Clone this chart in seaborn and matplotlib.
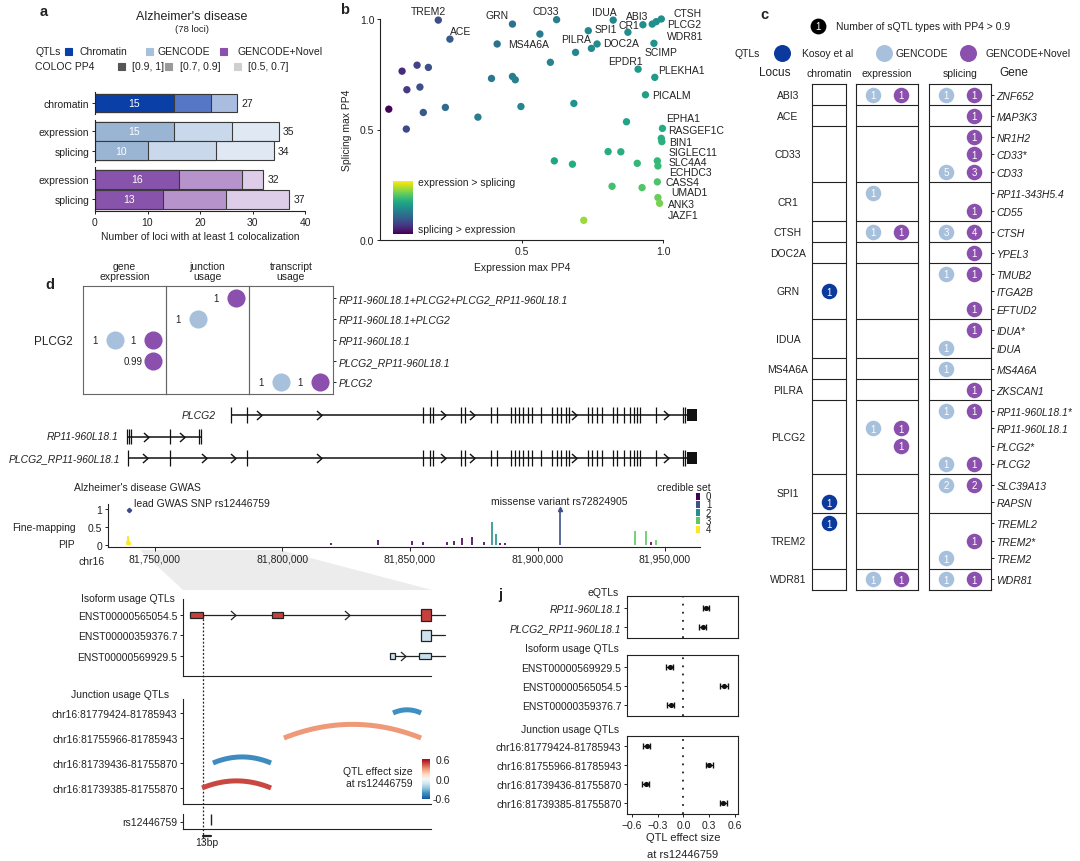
import numpy as np
import matplotlib
matplotlib.use("Agg")
import matplotlib.pyplot as plt
import seaborn as sns
import matplotlib.transforms as mtransforms
from matplotlib.patches import Rectangle, Polygon
from matplotlib.path import Path

# ============================ DATA ============================
# --- panel a ---
a_rows = ["chromatin", "expression", "splicing", "expression", "splicing"]
a_source = ["Chromatin", "GENCODE", "GENCODE", "GENCODE+Novel", "GENCODE+Novel"]
a_pp4_high = [15, 15, 10, 16, 13]   # [0.9, 1]
a_pp4_mid = [7, 11, 13, 12, 12]     # [0.7, 0.9]
a_pp4_low = [5, 9, 11, 4, 12]       # [0.5, 0.7]
a_ticks = [0, 10, 20, 30, 40]

# --- panel b ---
b_expr = [0.206, 0.247, 0.468, 0.624, 0.414, 0.565, 0.824, 0.736, 0.876, 0.929, 0.994, 0.976, 0.962,
          0.691, 0.747, 0.767, 0.968, 0.912, 0.971, 0.938, 0.602, 0.394, 0.468, 0.478, 0.685, 0.498,
          0.346, 0.231, 0.031, 0.078, 0.131, 0.171, 0.095, 0.141, 0.153, 0.093, 0.871, 0.998, 0.994,
          0.996, 0.806, 0.851, 0.616, 0.680, 0.909, 0.980, 0.982, 0.980, 0.820, 0.926, 0.982, 0.988, 0.720]
b_splice = [0.995, 0.909, 0.977, 0.997, 0.887, 0.932, 0.995, 0.947, 0.940, 0.974, 1.000, 0.988, 0.977,
            0.849, 0.867, 0.887, 0.890, 0.773, 0.736, 0.657, 0.804, 0.731, 0.740, 0.725, 0.618, 0.604,
            0.556, 0.600, 0.592, 0.764, 0.791, 0.781, 0.680, 0.692, 0.577, 0.502, 0.535, 0.505, 0.460,
            0.445, 0.400, 0.399, 0.358, 0.343, 0.347, 0.358, 0.335, 0.263, 0.243, 0.237, 0.192, 0.166, 0.089]
b_labels = ["TREM2", "ACE", "GRN", "CD33", "MS4A6A", "PILRA", "SPI1", "IDUA", "DOC2A", "CR1", "ABI3",
            "CTSH", "PLCG2", "WDR81", "SCIMP", "EPDR1", "PLEKHA1", "PICALM", "EPHA1", "RASGEF1C",
            "BIN1", "SIGLEC11", "SLC4A4", "ECHDC3", "CASS4", "UMAD1", "ANK3", "JAZF1"]

# --- panel c ---
c_loci = ["ABI3", "ACE", "CD33", "CR1", "CTSH", "DOC2A", "GRN", "IDUA", "MS4A6A", "PILRA",
          "PLCG2", "SPI1", "TREM2", "WDR81"]
c_gene = ["ZNF652", "MAP3K3", "NR1H2", "CD33*", "CD33", "RP11-343H5.4", "CD55", "CTSH", "YPEL3",
          "TMUB2", "ITGA2B", "EFTUD2", "IDUA*", "IDUA", "MS4A6A", "ZKSCAN1", "RP11-960L18.1*",
          "RP11-960L18.1", "PLCG2*", "PLCG2", "SLC39A13", "RAPSN", "TREML2", "TREM2*", "TREM2", "WDR81"]
c_gene_locus = ["ABI3", "ACE", "CD33", "CD33", "CD33", "CR1", "CR1", "CTSH", "DOC2A", "GRN", "GRN",
                "GRN", "IDUA", "IDUA", "MS4A6A", "PILRA", "PLCG2", "PLCG2", "PLCG2", "PLCG2", "SPI1",
                "SPI1", "TREM2", "TREM2", "TREM2", "WDR81"]
c_chromatin = [0, 0, 0, 0, 0, 0, 0, 0, 0, 0, 1, 0, 0, 0, 0, 0, 0, 0, 0, 0, 0, 1, 1, 0, 0, 0]
c_expr_gencode = [1, 0, 0, 0, 0, 1, 0, 1, 0, 0, 0, 0, 0, 0, 0, 0, 0, 1, 0, 0, 0, 0, 0, 0, 0, 1]
c_expr_novel = [1, 0, 0, 0, 0, 0, 0, 1, 0, 0, 0, 0, 0, 0, 0, 0, 0, 1, 1, 0, 0, 0, 0, 0, 0, 1]
c_spl_gencode = [1, 0, 0, 0, 5, 0, 0, 3, 0, 1, 0, 0, 0, 1, 1, 0, 1, 0, 0, 1, 2, 0, 0, 0, 1, 1]
c_spl_novel = [1, 1, 1, 1, 3, 0, 1, 4, 1, 1, 0, 1, 1, 0, 0, 1, 1, 0, 0, 1, 2, 0, 0, 1, 0, 1]

# --- panel d (top) ---
d_rows = ["RP11-960L18.1+PLCG2+PLCG2_RP11-960L18.1", "RP11-960L18.1+PLCG2", "RP11-960L18.1",
          "PLCG2_RP11-960L18.1", "PLCG2"]
d_cols = ["gene\nexpression", "junction\nusage", "transcript\nusage"]
nan = np.nan
d_gene_gencode = [nan, nan, 1, nan, nan]
d_gene_novel = [nan, nan, 1, 0.99, nan]
d_junc_gencode = [nan, 1, nan, nan, nan]
d_junc_novel = [1, nan, nan, nan, nan]
d_tx_gencode = [nan, nan, nan, nan, 1]
d_tx_novel = [nan, nan, nan, nan, 1]

# --- gene models (kb offsets from chr16:81,700,000) ---
CHR_OFFSET = 81_700_000
trk_names = ["PLCG2", "RP11-960L18.1", "PLCG2_RP11-960L18.1"]
trk_start_kb = [79.8, 39.0, 39.5]
trk_end_kb = [262.5, 67.9, 262.5]
plcg2_core_exons = [155.1, 158.0, 159.1, 169.9, 171.7, 181.6, 184.3, 189.5, 191.3, 192.7, 194.4,
                    196.2, 198.0, 201.5, 205.8, 207.6, 209.3, 211.1, 212.3, 219.8, 221.5, 223.3,
                    225.1, 229.5, 231.2, 233.8, 236.1, 237.8, 239.1, 240.3, 246.6, 257.1, 257.9]
trk_exons = [[79.8, 86.2] + plcg2_core_exons,
             [39.1, 39.8, 40.5, 56.1, 67.2, 67.9],
             [39.5, 56.1, 86.2] + plcg2_core_exons]
trk_block = [(258.6, 262.5), None, (258.6, 262.5)]
trk_arrows = [[90.8, 114.3, 163.0, 174.3, 214.2, 250.5],
              [46.5, 60.5],
              [46.0, 69.2, 80.5, 114.3, 163.0, 174.3, 214.2, 250.5]]

# --- GWAS fine-mapping PIP ---
pip_kb = [39.0, 39.3, 39.6, 39.9, 40.2,
          119.2, 137.5, 150.7, 155.1, 164.7, 167.3, 170.3, 174.3, 179.2, 185.3, 187.1, 244.3,
          182.2, 183.6, 209.0, 238.2, 242.6, 246.6]
pip_val = [0.12, 0.27, 0.22, 0.15, 0.08,
           0.05, 0.14, 0.12, 0.10, 0.09, 0.12, 0.20, 0.24, 0.10, 0.05, 0.05, 0.10,
           0.64, 0.32, 1.00, 0.41, 0.41, 0.14]
pip_set = [4, 4, 4, 4, 4,
           0, 0, 0, 0, 0, 0, 0, 0, 0, 0, 0, 0,
           2, 2, 1, 3, 3, 3]
lead_snp_kb, lead_snp_pip = 39.8, 0.97
missense_kb = 209.0
gwas_ticks = [81_750_000, 81_800_000, 81_850_000, 81_900_000, 81_950_000]

# --- panel j / isoform / junction QTL effects ---
j_eqtl_names = ["RP11-960L18.1", "PLCG2_RP11-960L18.1"]
j_eqtl_beta = [0.27, 0.225]
j_eqtl_err = [0.035, 0.04]
j_iso_names = ["ENST00000569929.5", "ENST00000565054.5", "ENST00000359376.7"]
j_iso_beta = [-0.16, 0.48, -0.15]
j_iso_err = [0.04, 0.045, 0.04]
j_junc_names = ["chr16:81779424-81785943", "chr16:81755966-81785943",
                "chr16:81739436-81755870", "chr16:81739385-81755870"]
j_junc_beta = [-0.43, 0.305, -0.44, 0.47]
j_junc_err = [0.045, 0.04, 0.04, 0.045]

# isoform structures in the compressed (intron-shrunk) coordinate 0-100
iso_rows = ["ENST00000565054.5", "ENST00000359376.7", "ENST00000569929.5"]
iso_line = [(2.8, 105.6), (100.0, 105.6), (83.5, 105.6)]
iso_exons = [[(2.8, 8.1, "utr"), (35.9, 40.3, "utr"), (96.0, 100.0, "cds")],
             [(96.0, 100.0, "cds")],
             [(83.5, 85.5, "utr"), (95.0, 100.0, "utr")]]
iso_arrows = [[20.2, 66.0], [], [88.7]]
junc_start_c = [84.7, 40.7, 12.1, 7.7]
junc_end_c = [96.0, 96.0, 35.5, 35.5]
snp_c = 11.3
junc_mark_c = 8.1

# ============================ STYLE ============================
sns.set_theme(context="paper", style="ticks")
FS = 7.5
plt.rcParams["font.family"] = ["Liberation Sans", "DejaVu Sans"]
plt.rcParams.update({
    "font.size": FS, "xtick.labelsize": FS, "ytick.labelsize": FS, "axes.labelsize": FS,
    "axes.edgecolor": "#222222", "xtick.color": "#222222", "ytick.color": "#222222",
    "text.color": "#222222", "axes.labelcolor": "#222222", "axes.linewidth": 0.8,
    "xtick.major.size": 2.5, "ytick.major.size": 2.5, "xtick.major.width": 0.7,
    "ytick.major.width": 0.7, "xtick.major.pad": 1.5, "ytick.major.pad": 1.5,
    "axes.facecolor": "none", "figure.facecolor": "white",
})

W, H = 1080, 862
fig = plt.figure(figsize=(W / 100, H / 100), dpi=100)
ov = fig.add_axes([0, 0, 1, 1])
ov.set_xlim(0, W)
ov.set_ylim(H, 0)
ov.axis("off")


def add_ax(x0, y0, x1, y1):
    ax = fig.add_axes([x0 / W, 1 - y1 / H, (x1 - x0) / W, (y1 - y0) / H])
    ax.set_facecolor("none")
    return ax


def T(x, y, s, **kw):
    kw.setdefault("ha", "left")
    kw.setdefault("va", "center")
    kw.setdefault("fontsize", FS)
    ov.text(x, y, s, **kw)


def spines(ax, left=True, bottom=True, top=False, right=False):
    ax.spines["left"].set_visible(left)
    ax.spines["bottom"].set_visible(bottom)
    ax.spines["top"].set_visible(top)
    ax.spines["right"].set_visible(right)


LBLUE = "#a7c0dc"
PURPLE = "#8b4fad"
DBLUE = "#0b3a9c"

# ============================ PANEL a ============================
T(40, 12, "a", fontsize=10.5, fontweight="bold")
T(192, 17, "Alzheimer's disease", ha="center", fontsize=9)
T(192, 30, "(78 loci)", ha="center", fontsize=6.8)
T(35, 52, "QTLs")
for sx, tx, lab, col in [(68, 80, "Chromatin", "#0b3fa8"), (149, 158, "GENCODE", LBLUE),
                         (223, 237, "GENCODE+Novel", PURPLE)]:
    ov.add_patch(Rectangle((sx - 3.5, 52 - 3.5), 7, 7, color=col))
    T(tx, 52, lab)
T(35, 67, "COLOC PP4")
for sx, tx, lab, col in [(121, 132, "[0.9, 1]", "#555555"), (168, 180, "[0.7, 0.9]", "#9a9a9a"),
                         (237, 248, "[0.5, 0.7]", "#cfcfcf")]:
    ov.add_patch(Rectangle((sx - 3.5, 67 - 3.5), 7, 7, color=col))
    T(tx, 67, lab)

shades = {"Chromatin": ["#0b3fa8", "#5577c6", "#a9bde1"],
          "GENCODE": ["#9ab5d4", "#c9d8ea", "#e0e8f3"],
          "GENCODE+Novel": ["#8853aa", "#b793cb", "#ddcde8"]}
a_groups = [[0], [1, 2], [3, 4]]
a_boxes = [(93, 115), (121, 163), (168, 212)]
for gi, (y0, y1) in enumerate(a_boxes):
    ax = add_ax(95, y0, 305, y1)
    idx = a_groups[gi]
    labs = [a_rows[i] for i in idx]
    hi = np.array([a_pp4_high[i] for i in idx])
    mid = np.array([a_pp4_mid[i] for i in idx])
    low = np.array([a_pp4_low[i] for i in idx])
    cs = shades[a_source[idx[0]]]
    for vals, col in [(hi + mid + low, cs[2]), (hi + mid, cs[1]), (hi, cs[0])]:
        sns.barplot(x=vals, y=labs, orient="h", color=col, saturation=1, width=0.95,
                    edgecolor="#3a3a3a", linewidth=0.8, errorbar=None, ax=ax)
    for j in range(len(idx)):
        ax.text(hi[j] / 2, j, str(hi[j]), color="white", ha="center", va="center", fontsize=FS)
        tot = hi[j] + mid[j] + low[j]
        ax.text(tot + 0.8, j, str(tot), ha="left", va="center", fontsize=FS)
    ax.set_xlim(0, 40)
    ax.set_ylim(len(idx) - 1 + 0.6, -0.6)
    ax.set_xlabel("")
    ax.set_ylabel("")
    last = gi == 2
    spines(ax, left=True, bottom=last)
    if last:
        ax.set_xticks(a_ticks)
        ax.set_xticklabels([str(t) for t in a_ticks])
    else:
        ax.set_xticks([])
T(200, 237, "Number of loci with at least 1 colocalization", ha="center")

# ============================ PANEL b ============================
T(340, 10, "b", fontsize=10.5, fontweight="bold")
axB = add_ax(380, 20, 663, 241)
b_ratio = np.log(np.array(b_expr) / np.array(b_splice))
sns.scatterplot(x=b_expr, y=b_splice, hue=b_ratio, palette="viridis", hue_norm=(-3, 3),
                s=28, linewidth=0, legend=False, clip_on=False, ax=axB)
axB.set_xlim(0, 1)
axB.set_ylim(0, 1)
axB.set_xticks([0.5, 1.0])
axB.set_xticklabels(["0.5", "1.0"])
axB.set_yticks([0, 0.5, 1.0])
axB.set_yticklabels(["0.0", "0.5", "1.0"])
spines(axB)
T(522, 268, "Expression max PP4", ha="center")
T(347, 130, "Splicing max PP4", ha="center", rotation=90)
b_label_xy = [(428, 12, "center"), (461, 32, "center"), (497, 16, "center"), (546, 12, "center"),
              (529, 45, "center"), (576, 40, "center"), (606, 30, "center"), (604, 13, "center"),
              (621, 44, "center"), (629, 26, "center"), (637, 17, "center"), (673, 14, "left"),
              (667, 25, "left"), (667, 37, "left"), (661, 53, "center"), (625, 62, "center"),
              (658, 71, "left"), (652, 96, "left"), (666, 119, "left"), (668, 131, "left"),
              (669, 143, "left"), (669, 153, "left"), (669, 163, "left"), (669, 173, "left"),
              (666, 183, "left"), (671, 193, "left"), (668, 205, "left"), (668, 216, "left")]
for name, (x, y, ha) in zip(b_labels, b_label_xy):
    T(x, y, name, ha=ha)
axCB = add_ax(393, 182, 413, 235)
axCB.imshow(np.linspace(1, 0, 100)[:, None], cmap="viridis", aspect="auto")
axCB.axis("off")
T(418, 183, "expression > splicing")
T(418, 230, "splicing > expression")

# ============================ PANEL c ============================
T(760, 15, "c", fontsize=10.5, fontweight="bold")
ov.scatter([818], [27], s=130, color="black", linewidths=0)
T(818, 27.5, "1", ha="center", color="white", fontsize=7)
T(836, 27, "Number of sQTL types with PP4 > 0.9")
T(760, 54, "QTLs", ha="right")
for cx, tx, lab, col in [(782, 802, "Kosoy et al", DBLUE), (884, 895, "GENCODE", LBLUE),
                         (968, 986, "GENCODE+Novel", PURPLE)]:
    ov.scatter([cx], [54], s=150, color=col, linewidths=0)
    T(tx, 54, lab)
T(775, 73, "Locus", ha="center", fontsize=8.5)
T(829, 74, "chromatin", ha="center")
T(887, 74, "expression", ha="center")
T(960, 74, "splicing", ha="center")
T(1014, 73, "Gene", ha="center", fontsize=8.5)

c_y, c_bounds, c_centers = [], [0.0], []
off = 0.0
for loc in c_loci:
    n = sum(1 for l in c_gene_locus if l == loc)
    c_y += [off + 0.6 + j for j in range(n)]
    c_centers.append(off + (n + 0.2) / 2)
    off += n + 0.2
    c_bounds.append(off)
c_y = np.array(c_y)

c_cols = [(812, 846, (0.4, 1.6), [(1, c_chromatin, DBLUE)]),
          (856, 918, (0.4, 2.6), [(1, c_expr_gencode, LBLUE), (2, c_expr_novel, PURPLE)]),
          (929, 991, (0.4, 2.6), [(1, c_spl_gencode, LBLUE), (2, c_spl_novel, PURPLE)])]
c_axes = []
for (x0, x1, xl, series) in c_cols:
    ax = add_ax(x0, 85, x1, 591)
    for pos, counts, col in series:
        counts = np.array(counts)
        m = counts > 0
        sns.scatterplot(x=[pos] * int(m.sum()), y=c_y[m], color=col, s=125, linewidth=0,
                        legend=False, clip_on=False, ax=ax)
        for yy, cnt in zip(c_y[m], counts[m]):
            ax.text(pos, yy + 0.03, str(cnt), color="white", ha="center", va="center", fontsize=7)
    ax.hlines(c_bounds[1:-1], xl[0], xl[1], color="#222222", lw=0.8)
    ax.set_xlim(*xl)
    ax.set_ylim(c_bounds[-1], 0)
    ax.set_xticks([])
    ax.set_yticks([])
    spines(ax, True, True, True, True)
    c_axes.append(ax)
axC3 = c_axes[2]
axC3.yaxis.tick_right()
axC3.set_yticks(c_y)
axC3.set_yticklabels(c_gene, style="italic")
axC3.tick_params(axis="y", length=2.5, pad=1.5)
trC = mtransforms.blended_transform_factory(ov.transData, c_axes[0].transData)
for loc, cy in zip(c_loci, c_centers):
    c_axes[0].text(788, cy, loc, transform=trC, ha="center", va="center", fontsize=FS)

# ============================ PANEL d (top) ============================
T(45, 285, "d", fontsize=10.5, fontweight="bold")
T(53, 342, "PLCG2", ha="center", fontsize=8.5)
d_series = [(d_gene_gencode, d_gene_novel), (d_junc_gencode, d_junc_novel), (d_tx_gencode, d_tx_novel)]
d_x = [83, 166, 249, 333]
for ci in range(3):
    ax = add_ax(d_x[ci], 287, d_x[ci + 1], 395)
    T((d_x[ci] + d_x[ci + 1]) / 2, 272, d_cols[ci], ha="center", linespacing=0.95)
    for pos, vals, col in [(1, d_series[ci][0], LBLUE), (2, d_series[ci][1], PURPLE)]:
        vals = np.array(vals, dtype=float)
        m = ~np.isnan(vals)
        rows = np.arange(len(vals))[m]
        sns.scatterplot(x=[pos] * int(m.sum()), y=rows, color=col, s=170, linewidth=0,
                        legend=False, clip_on=False, ax=ax)
        for r, v in zip(rows, vals[m]):
            ax.text(pos - 0.52, r, f"{v:g}", ha="center", va="center", fontsize=7)
    ax.set_xlim(0.16, 2.34)
    ax.set_ylim(4.6, -0.6)
    ax.set_xticks([])
    ax.set_yticks([])
    spines(ax, True, True, True, True)
    for s in ax.spines.values():
        s.set_color("#666666")
    if ci == 2:
        ax.yaxis.tick_right()
        ax.set_yticks(range(len(d_rows)))
        ax.set_yticklabels(d_rows, style="italic")

# ============================ gene models ============================
GX = (81_731_600, 81_963_700)
axT = add_ax(108, 405, 700, 470)
axT.set_xlim(*GX)
axT.set_ylim(2.51, -0.51)
axT.axis("off")
chev = Path([(-0.45, 0.8), (0.45, 0.0), (-0.45, -0.8)], [Path.MOVETO, Path.LINETO, Path.LINETO])
lab_off = [-11, -6, -6]
for r, name in enumerate(trk_names):
    s = CHR_OFFSET + trk_start_kb[r] * 1000
    e = CHR_OFFSET + trk_end_kb[r] * 1000
    axT.plot([s, e], [r, r], color="#111111", lw=1.1, solid_capstyle="butt")
    ex = CHR_OFFSET + np.array(trk_exons[r]) * 1000
    axT.vlines(ex, r - 0.36, r + 0.36, color="#111111", lw=0.9)
    if trk_block[r] is not None:
        b0, b1 = [CHR_OFFSET + v * 1000 for v in trk_block[r]]
        axT.add_patch(Rectangle((b0, r - 0.3), b1 - b0, 0.6, color="#111111", lw=0))
    ar = CHR_OFFSET + np.array(trk_arrows[r]) * 1000
    axT.plot(ar, [r] * len(ar), ls="none", marker=chev, ms=6.5, mfc="none", mec="#111111", mew=1.0)
    axT.annotate(name, (s, r), xytext=(lab_off[r], 0), textcoords="offset points", ha="right",
                 va="center", style="italic", fontsize=FS)

# ============================ GWAS ============================
T(137, 488, "Alzheimer's disease GWAS", ha="center")
ov.add_patch(Polygon([(140, 551), (280, 551), (432, 591), (183, 591)], closed=True,
                     color="#ececec", lw=0, zorder=0))
axP = add_ax(108, 505, 700, 548)
cs_cols = ["#440154", "#3b528b", "#21918c", "#5ec962", "#fde725"]
pos_bp = CHR_OFFSET + np.array(pip_kb) * 1000
axP.vlines(pos_bp, 0, pip_val, colors=[cs_cols[k] for k in pip_set], lw=1.2)
mbp = CHR_OFFSET + missense_kb * 1000
axP.plot([mbp], [1.0], marker="^", ms=3, color=cs_cols[1], clip_on=False)
axP.plot([CHR_OFFSET + lead_snp_kb * 1000], [lead_snp_pip], marker="D", ms=2.2,
         color="#3b4a8a", clip_on=False)
axP.set_xlim(*GX)
axP.set_ylim(-0.05, 1.15)
axP.set_yticks([0, 0.5, 1])
axP.set_yticklabels(["0", "0.5", "1"])
axP.set_xticks(gwas_ticks)
axP.set_xticklabels([f"{t:,}" for t in gwas_ticks])
axP.tick_params(axis="x", length=3)
spines(axP)
T(134, 504, "lead GWAS SNP rs12446759")
T(559, 502, "missense variant rs72824905", ha="center")
T(76, 528, "Fine-mapping", ha="right")
T(75, 545, "PIP", ha="right")
T(92, 562, "chr16", ha="center")
T(657, 488, "credible set")
for k in range(5):
    yk = 497 + 8.3 * k
    ov.add_patch(Rectangle((696, yk - 3.5), 3.5, 7, color=cs_cols[k], lw=0))
    T(706, yk, str(k), fontsize=7)

# ============================ isoform usage QTLs ============================
eff_cmap = plt.get_cmap("RdBu_r")
eff_norm = plt.Normalize(-0.7, 0.7)
T(128, 599, "Isoform usage QTLs", ha="center")
axI = add_ax(183, 600, 431, 677)
axI.set_xlim(0, 100)
axI.set_ylim(2.98, -0.78)
for r, name in enumerate(iso_rows):
    beta = j_iso_beta[j_iso_names.index(name)]
    col = eff_cmap(eff_norm(beta))
    l0, l1 = iso_line[r]
    axI.plot([l0, l1], [r, r], color="#222222", lw=0.9, clip_on=False, zorder=1)
    for (e0, e1, kind) in iso_exons[r]:
        hh = 0.27 if kind == "cds" else 0.13
        axI.add_patch(Rectangle((e0, r - hh), e1 - e0, 2 * hh, facecolor=col, edgecolor="#222222",
                                lw=0.9, zorder=3, clip_on=False))
    if iso_arrows[r]:
        axI.plot(iso_arrows[r], [r] * len(iso_arrows[r]), ls="none", marker=chev, ms=6.5,
                 mfc="none", mec="#222222", mew=0.9, zorder=2)
axI.set_xticks([])
axI.set_yticks(range(len(iso_rows)))
axI.set_yticklabels(iso_rows)
spines(axI)

# ============================ junction usage QTLs ============================
T(120, 695, "Junction usage QTLs", ha="center")
axJ = add_ax(183, 700, 431, 805)
axJ.set_xlim(0, 100)
axJ.set_ylim(3.64, -0.56)
t = np.linspace(0, 1, 80)
for r, (s0, s1, beta) in enumerate(zip(junc_start_c, junc_end_c, j_junc_beta)):
    h = 0.0095 * (s1 - s0) + 0.02
    axJ.plot(s0 + (s1 - s0) * t, r - h * 4 * t * (1 - t), color=eff_cmap(eff_norm(beta)), lw=3.6,
             solid_capstyle="butt")
axJ.set_xticks([])
axJ.set_yticks(range(len(j_junc_names)))
axJ.set_yticklabels(j_junc_names)
spines(axJ)
axEB = add_ax(422, 760, 430, 800)
axEB.imshow(np.linspace(0.6, -0.6, 100)[:, None], cmap=eff_cmap, norm=eff_norm, aspect="auto")
axEB.axis("off")
T(436, 761, "0.6")
T(436, 781, "0.0")
T(433, 800, "-0.6")
T(413, 772, "QTL effect size", ha="right")
T(413, 784, "at rs12446759", ha="right")

# ============================ SNP track ============================
axS = add_ax(183, 815, 431, 830)
axS.set_xlim(0, 100)
axS.set_ylim(0, 1)
axS.vlines([snp_c], 0.3, 1.0, color="#222222", lw=1.0)
axS.plot([junc_mark_c, snp_c], [-0.45, -0.45], color="#222222", lw=1.6, clip_on=False)
axS.text((junc_mark_c + snp_c) / 2, -0.9, "13bp", ha="center", va="center", fontsize=FS)
axS.set_xticks([])
axS.set_yticks([0.5])
axS.set_yticklabels(["rs12446759"])
spines(axS)

# dotted guide through the three lower panels
xd = axI.transData.transform((junc_mark_c, 0))[0]
xpx = ov.transData.inverted().transform((xd, 0))[0]
ov.plot([xpx, xpx], [616, 845], ls=(0, (1.5, 1.5)), color="#222222", lw=0.9)

# ============================ PANEL j ============================
T(498, 595, "j", fontsize=10.5, fontweight="bold")
j_panels = [("eQTLs", 593, (597, 639), j_eqtl_names, j_eqtl_beta, j_eqtl_err, True),
            ("Isoform usage QTLs", 649, (656, 717), j_iso_names, j_iso_beta, j_iso_err, False),
            ("Junction usage QTLs", 730, (737, 815), j_junc_names, j_junc_beta, j_junc_err, False)]
for pi, (title, ty, (y0, y1), names, beta, err, ital) in enumerate(j_panels):
    T(619, ty, title, ha="right")
    ax = add_ax(627, y0, 738, y1)
    n = len(names)
    rows = np.arange(n)
    ax.axvline(0, color="#222222", ls=(0, (1, 3.5)), lw=1.3)
    ax.errorbar(beta, rows, xerr=err, fmt="none", ecolor="#111111", elinewidth=1.0, capsize=2.2,
                capthick=1.0)
    sns.scatterplot(x=beta, y=rows, color="#111111", s=14, linewidth=0, legend=False, ax=ax)
    ax.set_xlim(-0.66, 0.64)
    pad_top = (10 if n == 4 else 12) / 19
    ax.set_ylim(n - 1 + (11 / 19), -pad_top)
    ax.set_yticks(rows)
    ax.set_yticklabels(names, style="italic" if ital else "normal")
    ax.set_ylabel("")
    spines(ax, True, True, True, True)
    if pi == 2:
        ax.set_xticks([-0.6, -0.3, 0.0, 0.3, 0.6])
        ax.set_xticklabels(["\u22120.6", "\u22120.3", "0.0", "0.3", "0.6"])
    else:
        ax.set_xticks([])
T(683, 838, "QTL effect size", ha="center", fontsize=8)
T(683, 855, "at rs12446759", ha="center", fontsize=8)

fig.savefig("out.png", dpi=100)
